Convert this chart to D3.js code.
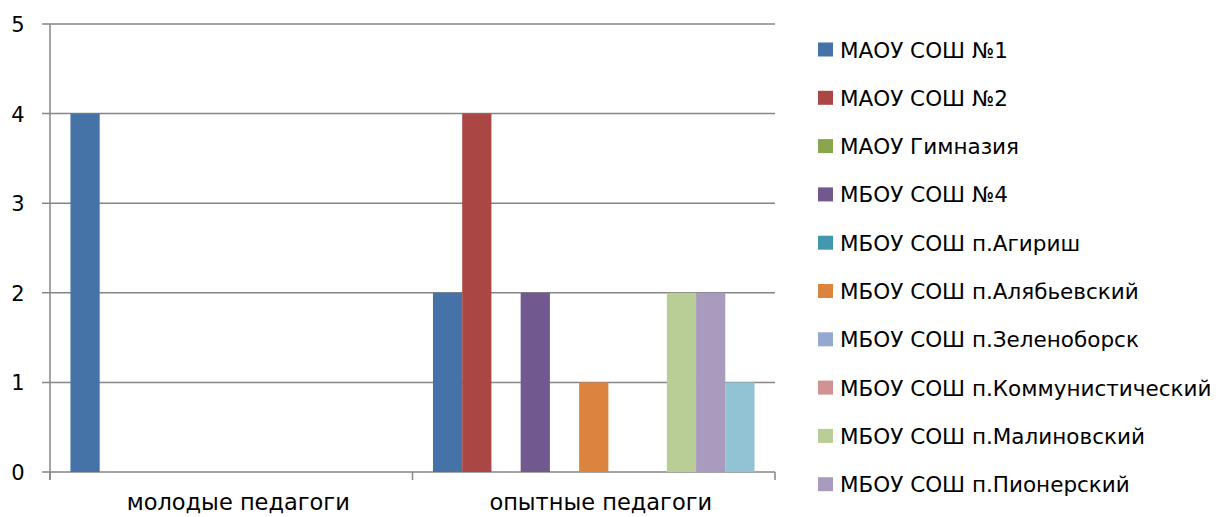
<!DOCTYPE html>
<html>
<head>
<meta charset="utf-8">
<script src="https://cdn.jsdelivr.net/npm/d3@7"></script>
<style>
  body { margin: 0; background: #fff; }
  text { font-family: "DejaVu Sans", sans-serif; fill: #000; }
</style>
</head>
<body>
<svg id="chart" width="1216" height="517"></svg>
<script>
// categories and series
const categories = ["молодые педагоги", "опытные педагоги"];
const schools = [
  "МАОУ СОШ №1", "МАОУ СОШ №2", "МАОУ Гимназия", "МБОУ СОШ №4",
  "МБОУ СОШ п.Агириш", "МБОУ СОШ п.Алябьевский", "МБОУ СОШ п.Зеленоборск",
  "МБОУ СОШ п.Коммунистический", "МБОУ СОШ п.Малиновский", "МБОУ СОШ п.Пионерский",
  "МБОУ СОШ п.Советский"
];
// one value per school, per category
const youngValues = [4, 0, 0, 0, 0, 0, 0, 0, 0, 0, 0];
const expValues   = [2, 4, 0, 2, 0, 1, 0, 0, 2, 2, 1];
const yTicks = [0, 1, 2, 3, 4, 5];
const colors = ["#4572A7", "#AA4643", "#89A54E", "#71588F", "#4198AF", "#DB843D",
                "#93A9CF", "#D19392", "#B9CD96", "#A99BBD", "#91C3D5"];
const legendCount = 10; // last series is cut off in the legend

const svg = d3.select("#chart");
const plot = {left: 50, right: 775, top: 24, bottom: 472};

const x0 = d3.scaleBand().domain(categories).range([plot.left, plot.right]);
const x1 = d3.scaleBand().domain(d3.range(schools.length))
  .range([0, x0.bandwidth()]).paddingOuter(0.7).paddingInner(0);
const y = d3.scaleLinear().domain([0, 5]).range([plot.bottom, plot.top]);

// gridlines
svg.append("g").selectAll("line").data(yTicks).join("line")
  .attr("x1", plot.left - 8).attr("x2", plot.right)
  .attr("y1", d => y(d)).attr("y2", d => y(d))
  .attr("stroke", "#868686").attr("stroke-width", 1.5);

// y axis line + labels
svg.append("line").attr("x1", plot.left).attr("x2", plot.left)
  .attr("y1", plot.top).attr("y2", plot.bottom + 8)
  .attr("stroke", "#868686").attr("stroke-width", 1.5);
svg.append("g").selectAll("text").data(yTicks).join("text")
  .attr("x", 18).attr("y", d => y(d) + 8)
  .attr("text-anchor", "middle").attr("font-size", 21)
  .text(d => d);

// category ticks
const catEdges = [plot.left, plot.left + x0.bandwidth(), plot.right];
svg.append("g").selectAll("line").data(catEdges).join("line")
  .attr("x1", d => d).attr("x2", d => d)
  .attr("y1", plot.bottom).attr("y2", plot.bottom + 8)
  .attr("stroke", "#868686").attr("stroke-width", 1.5);
svg.append("g").selectAll("text").data(categories).join("text")
  .attr("x", d => x0(d) + x0.bandwidth() / 2 + 7).attr("y", 510)
  .attr("text-anchor", "middle").attr("font-size", 22.5)
  .text(d => d);

// bars
const rows = [youngValues, expValues];
categories.forEach((c, ci) => {
  svg.append("g").attr("transform", `translate(${x0(c)},0)`)
    .selectAll("rect").data(rows[ci]).join("rect")
    .attr("x", (d, i) => x1(i)).attr("width", x1.bandwidth())
    .attr("y", d => y(d)).attr("height", d => y(0) - y(d))
    .attr("fill", (d, i) => colors[i]);
});

// legend
const lg = svg.append("g").selectAll("g").data(schools.slice(0, legendCount)).join("g")
  .attr("transform", (d, i) => `translate(818,${49.5 + i * 48.3})`);
lg.append("rect").attr("x", 0).attr("y", -7).attr("width", 15).attr("height", 14)
  .attr("fill", (d, i) => colors[i]);
lg.append("text").attr("x", 22).attr("y", 8).attr("font-size", 21.5).text(d => d);
</script>
</body>
</html>
